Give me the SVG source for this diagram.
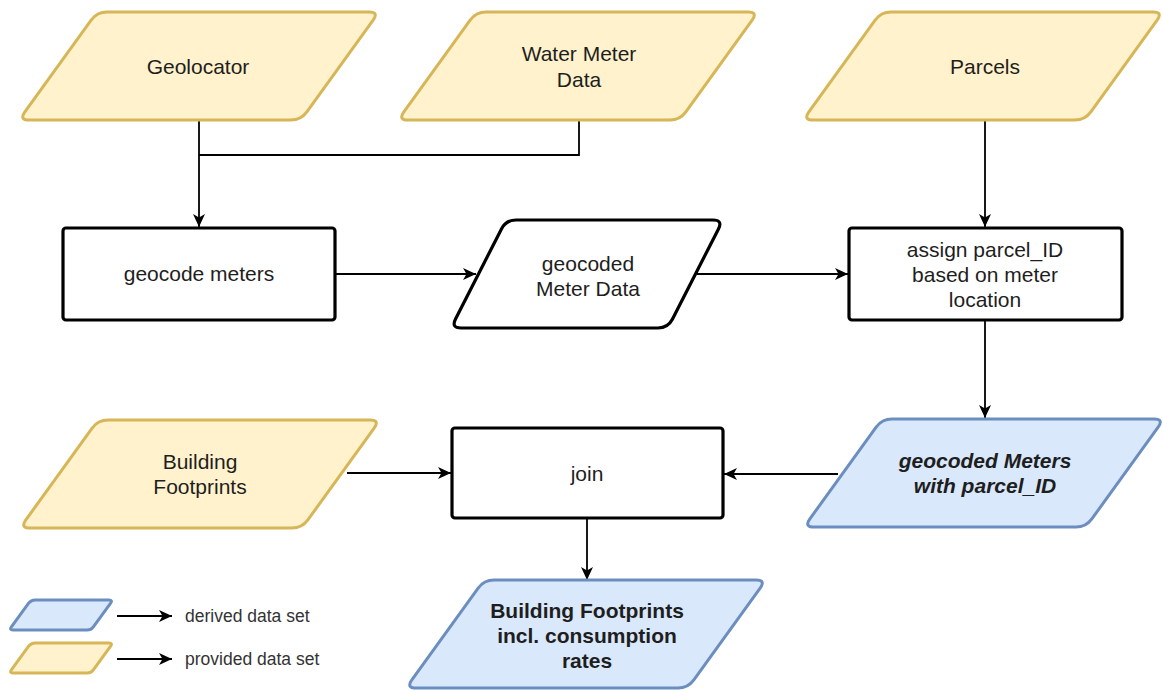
<svg xmlns="http://www.w3.org/2000/svg" width="1163" height="690" viewBox="0 0 1163 690">
<style>
text{font-family:"Liberation Sans",Arial,sans-serif;font-size:21px;fill:#1e1e1e;text-anchor:middle}
.prov{fill:#fff2cc;stroke:#d6b656;stroke-width:3}
.der{fill:#dae8fc;stroke:#6c8ebf;stroke-width:3}
.proc{fill:#fff;stroke:#000;stroke-width:3.2}
.conn{fill:none;stroke:#000;stroke-width:1.8}
.b{font-weight:bold}
.bi{font-weight:bold;font-style:italic}
.leg{font-size:17.5px;text-anchor:start;fill:#333}
</style>
<defs>
<marker id="arr" markerUnits="userSpaceOnUse" markerWidth="14" markerHeight="14" viewBox="0 0 14 14" refX="13" refY="7" orient="auto">
<path d="M0,1 L13,7 L0,13 L3.5,7 Z" fill="#000"/>
</marker>
<path id="para" d="M88,0 L350,0 Q360,0 354.14,8.11 L287.86,99.89 Q282,108 272,108 L10,108 Q0,108 5.86,99.89 L72.14,8.11 Q78,0 88,0 Z"/>
<path id="small" d="M26,0 L100,0 Q104,0 101.63,3.23 L84.37,26.77 Q82,30 78,30 L4,30 Q0,30 2.37,26.77 L19.63,3.23 Q22,0 26,0 Z"/>
</defs>

<g id="connectors">
<path class="conn" d="M199,121 V227" marker-end="url(#arr)"/>
<path class="conn" d="M579,121 V155 H199"/>
<path class="conn" d="M985,121 V227" marker-end="url(#arr)"/>
<path class="conn" d="M335,274 H476" marker-end="url(#arr)"/>
<path class="conn" d="M697,274 H848" marker-end="url(#arr)"/>
<path class="conn" d="M985,320 V418" marker-end="url(#arr)"/>
<path class="conn" d="M838,474 H724" marker-end="url(#arr)"/>
<path class="conn" d="M347,473 H451" marker-end="url(#arr)"/>
<path class="conn" d="M587,518 V580" marker-end="url(#arr)"/>
<path class="conn" d="M117,616 H172" marker-end="url(#arr)"/>
<path class="conn" d="M117,659 H172" marker-end="url(#arr)"/>
</g>

<g id="geolocator">
<use href="#para" class="prov" transform="translate(19,12)"/>
<text x="198" y="74">Geolocator</text>
</g>
<g id="water-meter-data">
<use href="#para" class="prov" transform="translate(398,12)"/>
<text x="579" y="61">Water Meter</text>
<text x="579" y="87">Data</text>
</g>
<g id="parcels">
<use href="#para" class="prov" transform="translate(803,12)"/>
<text x="985" y="74">Parcels</text>
</g>
<g id="geocode-meters">
<rect class="proc" x="63" y="228" width="272" height="92" rx="3"/>
<text x="199" y="281">geocode meters</text>
</g>
<g id="geocoded-meter-data">
<path class="proc" transform="translate(451,220)" d="M65,0 L262,0 Q272,0 267.46,8.91 L221.54,99.09 Q217,108 207,108 L10,108 Q0,108 4.54,99.09 L50.46,8.91 Q55,0 65,0 Z"/>
<text x="588" y="271">geocoded</text>
<text x="588" y="296">Meter Data</text>
</g>
<g id="assign-parcel-id">
<rect class="proc" x="849" y="228" width="273" height="92" rx="3"/>
<text x="985" y="257">assign parcel_ID</text>
<text x="985" y="282">based on meter</text>
<text x="985" y="307">location</text>
</g>
<g id="building-footprints">
<use href="#para" class="prov" transform="translate(20,420)"/>
<text x="200" y="469">Building</text>
<text x="200" y="494">Footprints</text>
</g>
<g id="join">
<rect class="proc" x="452" y="428" width="271" height="90" rx="3"/>
<text x="587" y="481">join</text>
</g>
<g id="geocoded-meters-parcel">
<use href="#para" class="der" transform="translate(804,419)"/>
<text class="bi" x="985" y="468">geocoded Meters</text>
<text class="bi" x="985" y="493">with parcel_ID</text>
</g>
<g id="building-footprints-consumption">
<use href="#para" class="der" transform="translate(406,580)"/>
<text class="b" x="587" y="618">Building Footprints</text>
<text class="b" x="587" y="643">incl. consumption</text>
<text class="b" x="587" y="668">rates</text>
</g>
<g id="legend-derived">
<use href="#small" class="der" transform="translate(9,600)"/>
<text class="leg" x="185" y="622">derived data set</text>
</g>
<g id="legend-provided">
<use href="#small" class="prov" transform="translate(9,643)"/>
<text class="leg" x="185" y="665">provided data set</text>
</g>
</svg>
